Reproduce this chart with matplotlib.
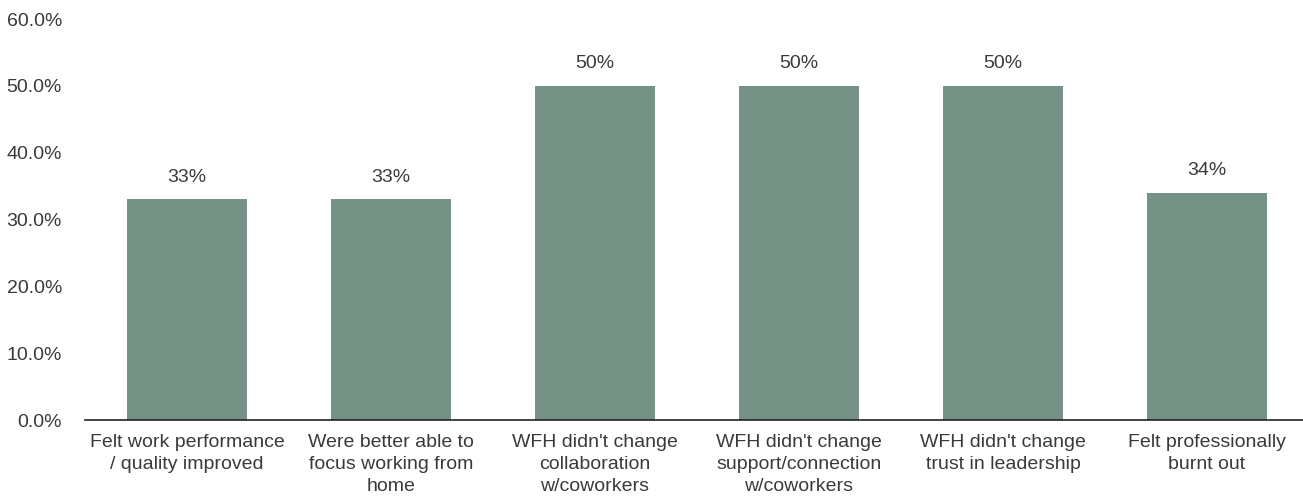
import matplotlib.pyplot as plt
from matplotlib.ticker import FuncFormatter

# Survey results
categories = [
    'Felt work performance\n/ quality improved',
    'Were better able to\nfocus working from\nhome',
    "WFH didn't change\ncollaboration\nw/coworkers",
    "WFH didn't change\nsupport/connection\nw/coworkers",
    "WFH didn't change\ntrust in leadership",
    'Felt professionally\nburnt out',
]
values = [33, 33, 50, 50, 50, 34]

plt.rcParams['font.family'] = ['Liberation Sans', 'DejaVu Sans']
text_color = '#3a3a3a'
fs = 14

fig = plt.figure(figsize=(13.03, 4.98), dpi=100)
ax = fig.add_axes([85 / 1303, 78 / 498, 1224 / 1303, 401 / 498])

x = range(len(categories))
bars = ax.bar(x, values, width=0.59, color='#769186')

for rect, v in zip(bars, values):
    ax.annotate(f'{v}%', (rect.get_x() + rect.get_width() / 2, v),
                xytext=(0, 10), textcoords='offset points',
                ha='center', va='bottom', fontsize=fs, color=text_color)

ax.set_ylim(0, 60)
ax.set_xlim(-0.5, 5.5)
ax.set_yticks(range(0, 61, 10))
ax.yaxis.set_major_formatter(FuncFormatter(lambda v, p: f'{v:.1f}%'))
ax.set_xticks(list(x))
ax.set_xticklabels(categories, fontsize=fs, color=text_color, linespacing=1.4)

for s in ['top', 'right', 'left']:
    ax.spines[s].set_visible(False)
ax.spines['bottom'].set_linewidth(1.2)
ax.spines['bottom'].set_color('#222222')
ax.tick_params(axis='y', length=0, pad=16.5, labelsize=fs, labelcolor=text_color)
ax.tick_params(axis='x', length=0, pad=10)

fig.savefig('out.png', dpi=100)
